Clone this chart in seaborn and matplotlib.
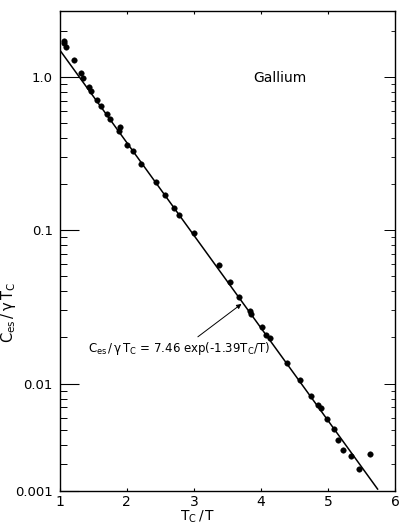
import matplotlib
matplotlib.use("Agg")
import matplotlib.pyplot as plt
import matplotlib.ticker as mticker
import seaborn as sns
import pandas as pd

# measured points, Tc/T vs Ces/(gamma Tc)
tc_over_t = [1.062, 1.070, 1.095, 1.213, 1.326, 1.355, 1.437, 1.472, 1.560, 1.619,
             1.707, 1.755, 1.897, 1.887, 2.009, 2.097, 2.214, 2.430, 2.576, 2.704,
             2.782, 2.997, 3.378, 3.540, 3.672, 3.842, 3.856, 4.013, 4.072, 4.135,
             4.394, 4.585, 4.742, 4.849, 4.893, 4.991, 5.094, 5.150, 5.216, 5.337,
             5.455, 5.626]
ces_ratio = [1.72, 1.66, 1.57, 1.28, 1.06, 0.98, 0.852, 0.803, 0.702, 0.648,
             0.569, 0.531, 0.474, 0.441, 0.360, 0.326, 0.272, 0.206, 0.169, 0.140,
             0.126, 0.0957, 0.0593, 0.0462, 0.0365, 0.0297, 0.0285, 0.0234, 0.0208, 0.0199,
             0.0136, 0.0105, 0.00832, 0.00723, 0.00695, 0.00586, 0.00510, 0.00427, 0.00367, 0.00339,
             0.00278, 0.00350]

# fitted line as drawn (end points)
fit_x = [1.0, 5.74]
fit_y = [1.50, 0.00205]

y_ticks = [1.0, 0.1, 0.01, 0.002]
y_tick_labels = ["1.0", "0.1", "0.01", "0.001"]
x_ticks = [1, 2, 3, 4, 5, 6]

sns.set_style("ticks")
plt.rcParams["font.family"] = ["Liberation Sans Narrow", "DejaVu Sans"]
plt.rcParams["mathtext.default"] = "regular"
plt.rcParams["text.color"] = "black"
plt.rcParams["axes.labelcolor"] = "black"
plt.rcParams["xtick.color"] = "black"
plt.rcParams["ytick.color"] = "black"

df = pd.DataFrame({"x": tc_over_t, "y": ces_ratio})
fit = pd.DataFrame({"x": fit_x, "y": fit_y})

fig = plt.figure(figsize=(4.0, 5.29), dpi=100)
ax = fig.add_axes([0.149, 0.072, 0.839, 0.907])

sns.lineplot(data=fit, x="x", y="y", ax=ax, color="black", linewidth=1.1)
sns.scatterplot(data=df, x="x", y="y", ax=ax, color="black", s=16,
                edgecolor="black", linewidth=0.3, zorder=3)

ax.set_yscale("log")
ax.set_xlim(1, 5.95)
ax.set_ylim(0.002, 2.68)

for s in ax.spines.values():
    s.set_linewidth(1.0)
    s.set_color("black")

ax.set_xticks(x_ticks)
ax.set_xticklabels([str(t) for t in x_ticks])
ax.yaxis.set_major_locator(mticker.FixedLocator(y_ticks))
ax.yaxis.set_major_formatter(mticker.FixedFormatter(y_tick_labels))
ax.yaxis.set_minor_locator(mticker.LogLocator(base=10, subs=range(2, 10), numticks=20))
ax.yaxis.set_minor_formatter(mticker.NullFormatter())

ax.tick_params(axis="x", which="major", direction="in", length=2.5, width=0.8,
               top=True, bottom=True, pad=3, labelsize=10)
ax.tick_params(axis="y", which="major", direction="in", length=14, width=0.8,
               left=True, right=False, pad=5, labelsize=9.5)
ax.tick_params(axis="y", which="minor", direction="in", length=5, width=0.7,
               left=True, right=False)

# right side ticks are shorter
ax2 = ax.twinx()
ax2.set_yscale("log")
ax2.set_ylim(ax.get_ylim())
ax2.yaxis.set_major_locator(mticker.FixedLocator([1.0, 0.1, 0.01]))
ax2.yaxis.set_minor_locator(mticker.LogLocator(base=10, subs=range(2, 10), numticks=20))
ax2.yaxis.set_major_formatter(mticker.NullFormatter())
ax2.yaxis.set_minor_formatter(mticker.NullFormatter())
ax2.tick_params(axis="y", which="major", direction="in", length=8, width=0.7)
ax2.tick_params(axis="y", which="minor", direction="in", length=3, width=0.6)
for s in ax2.spines.values():
    s.set_visible(False)

ax.set_xlabel(r"$T_C\,/\,T$", fontsize=10)
ax.set_ylabel(r"$C_{es}\,/\,\gamma\,T_C$", fontsize=10.5)
ax.xaxis.set_label_coords(0.413, -0.036)
ax.yaxis.set_label_coords(-0.125, 0.371)

ax.text(4.28, 0.985, "Gallium", ha="center", va="center", fontsize=10)
ax.text(1.43, 0.0169, r"$C_{es}\,/\,\gamma\,T_C$ = 7.46 exp(-1.39$T_C$/T)",
        ha="left", va="center", fontsize=8.5)
ax.annotate("", xy=(3.71, 0.0331), xytext=(3.06, 0.0202),
            arrowprops=dict(arrowstyle="-|>", color="black", lw=0.7,
                            mutation_scale=7, shrinkA=0, shrinkB=0))

fig.savefig("out.png", dpi=100)
